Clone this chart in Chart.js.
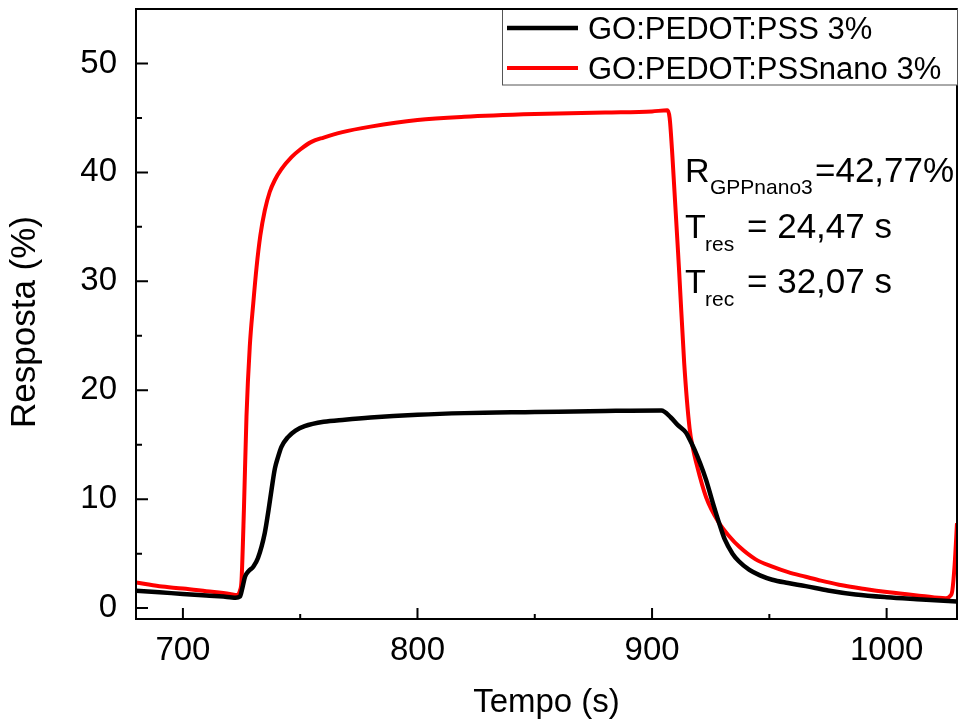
<!DOCTYPE html>
<html><head><meta charset="utf-8">
<script src="https://cdn.jsdelivr.net/npm/chart.js@4.4.1/dist/chart.umd.min.js"></script>
<style>html,body{margin:0;padding:0;background:#fff;}canvas{display:block;}</style>
</head><body><canvas id="c" width="958" height="724"></canvas>
<script>
const seriesNames = ['GO:PEDOT:PSS 3%', 'GO:PEDOT:PSSnano 3%'];
const seriesColors = ['#000000', '#ff0000'];

const pssTime = [680,690,700,710,720,722.5,724.3,725.5,726.5,728,730,732,734.9,736.5,737.8,739.2,740.6,742,744.8,748,751.9,760,769,780,800,820,850,880,904,908,911,914.5,916,918,920.5,923,926,928.6,931,934.3,937,941.5,946,951.2,958,965.5,975,986.8,1000,1015,1030];
const pssValues = [1.6,1.45,1.3,1.15,1.0,0.95,1.06,2.0,2.9,3.4,3.8,4.6,6.9,9.0,10.9,12.8,13.9,14.8,15.7,16.3,16.7,17.1,17.3,17.5,17.75,17.9,18.0,18.1,18.15,17.5,16.8,16.1,15.5,14.6,13.3,11.8,9.6,7.8,6.3,5.0,4.3,3.5,3.0,2.6,2.3,2.02,1.62,1.25,1.0,0.8,0.6];

const nanoTime = [680,690,700,710,720,723,724.3,725,726,727.1,728.5,730,731.4,733,734.9,737,739.2,742,746.3,750,754.8,760,768,780,800,820,850,880,900,906.5,907.5,908.7,911.6,913.7,916,917.3,919,923,928.6,932.9,937.1,944,951.3,958,965.5,972,979.7,990,1001,1015,1025.1,1027,1028,1029,1030];
const nanoValues = [2.35,2.0,1.8,1.55,1.3,1.2,1.6,2.6,9,17.6,24.0,28,31.3,34.2,36.5,38.2,39.3,40.3,41.4,42.1,42.8,43.2,43.7,44.2,44.8,45.1,45.35,45.5,45.6,45.7,45.0,41.4,30.7,22.5,16.5,14.8,13.2,10.2,7.8,6.6,5.65,4.5,3.8,3.3,2.88,2.52,2.15,1.78,1.45,1.12,0.9,1.1,1.6,4,7.8];

const xTicks = [700, 800, 900, 1000];
const xMinorTicks = [750, 850, 950];
const yTicks = [0, 10, 20, 30, 40, 50];
const yMinorTicks = [5, 15, 25, 35, 45];
const xLabel = 'Tempo (s)';
const yLabel = 'Resposta (%)';
const annotationLines = [
  {main: 'R', sub: 'GPPnano3', rest: '=42,77%'},
  {main: 'T', sub: 'res', rest: '= 24,47 s'},
  {main: 'T', sub: 'rec', rest: '= 32,07 s'}
];

const FONT = "'Liberation Sans', Arial, Helvetica, sans-serif";

function toPoints(xs, ys) { return xs.map((x, i) => ({x: x, y: ys[i]})); }

const framePlugin = {
  id: 'frame',
  afterDraw(chart) {
    const {ctx, chartArea: a, scales: {x, y}} = chart;
    ctx.save();
    ctx.strokeStyle = '#000';
    ctx.lineWidth = 2;
    ctx.strokeRect(a.left, a.top, a.right - a.left, a.bottom - a.top);
    ctx.beginPath();
    yTicks.forEach(v => { const p = y.getPixelForValue(v); ctx.moveTo(a.left, p); ctx.lineTo(a.left + 12, p); });
    yMinorTicks.forEach(v => { const p = y.getPixelForValue(v); ctx.moveTo(a.left, p); ctx.lineTo(a.left + 6, p); });
    xTicks.forEach(v => { const p = x.getPixelForValue(v); ctx.moveTo(p, a.bottom); ctx.lineTo(p, a.bottom - 11); });
    xMinorTicks.forEach(v => { const p = x.getPixelForValue(v); ctx.moveTo(p, a.bottom); ctx.lineTo(p, a.bottom - 5); });
    ctx.stroke();

    // y axis title
    ctx.save();
    ctx.translate(25, 322);
    ctx.rotate(-Math.PI / 2);
    ctx.fillStyle = '#000';
    ctx.font = '35px ' + FONT;
    ctx.textAlign = 'center';
    ctx.textBaseline = 'middle';
    ctx.fillText(yLabel, 0, 0);
    ctx.restore();

    // legend
    const lx = 502, ly = a.top, lw = a.right - lx, lh = 85 - a.top;
    ctx.fillStyle = '#fff';
    ctx.fillRect(lx, ly, lw, lh);
    ctx.strokeStyle = '#555';
    ctx.lineWidth = 1;
    ctx.strokeRect(lx + 0.5, ly, lw, lh);
    ctx.strokeStyle = '#000';
    ctx.lineWidth = 2;
    ctx.beginPath(); ctx.moveTo(a.left, a.top); ctx.lineTo(a.right, a.top); ctx.stroke();
    const rows = [28, 68];
    chart.data.datasets.forEach((ds, i) => {
      ctx.strokeStyle = ds.borderColor;
      ctx.lineWidth = i === 0 ? 4.5 : 4;
      ctx.beginPath(); ctx.moveTo(507, rows[i]); ctx.lineTo(578, rows[i]); ctx.stroke();
      ctx.fillStyle = '#000';
      ctx.font = '31px ' + FONT;
      ctx.textBaseline = 'alphabetic';
      ctx.textAlign = 'left';
      ctx.fillText(ds.label, 588, rows[i] + 11);
    });

    // annotation
    const baselines = [181.7, 238, 293.3];
    const subX = [710, 705, 705];
    const restX = [815, 747, 747];
    ctx.fillStyle = '#000';
    annotationLines.forEach((ln, i) => {
      ctx.font = '34px ' + FONT;
      ctx.fillText(ln.main, 685, baselines[i]);
      ctx.font = '35px ' + FONT;
      ctx.fillText(ln.rest, restX[i], baselines[i]);
      ctx.font = '21px ' + FONT;
      ctx.fillText(ln.sub, subX[i], baselines[i] + 12.5);
    });
    ctx.restore();
  }
};

new Chart(document.getElementById('c'), {
  type: 'line',
  data: {
    datasets: [
      {label: seriesNames[0], data: toPoints(pssTime, pssValues), borderColor: seriesColors[0], borderWidth: 4.5, pointRadius: 0, cubicInterpolationMode: 'monotone', fill: false},
      {label: seriesNames[1], data: toPoints(nanoTime, nanoValues), borderColor: seriesColors[1], borderWidth: 4, pointRadius: 0, cubicInterpolationMode: 'monotone', fill: false}
    ]
  },
  options: {
    responsive: false,
    animation: false,
    devicePixelRatio: 1,
    layout: {padding: {top: 9, right: 1, left: 0, bottom: 0}},
    plugins: {legend: {display: false}, tooltip: {enabled: false}},
    scales: {
      x: {
        type: 'linear', min: 680, max: 1030,
        afterBuildTicks(s) { s.ticks = xTicks.map(v => ({value: v})); },
        afterFit(s) { s.height = 105; s.paddingLeft = 0; s.paddingRight = 0; },
        grid: {display: false, drawTicks: false},
        border: {display: false},
        ticks: {color: '#000', font: {size: 33, family: FONT}, padding: 12, maxRotation: 0, autoSkip: false, callback: v => String(v)},
        title: {display: true, text: xLabel, color: '#000', font: {size: 33, family: FONT}, padding: {top: 0, bottom: 1}}
      },
      y: {
        type: 'linear', min: -1, max: 55,
        afterBuildTicks(s) { s.ticks = yTicks.map(v => ({value: v})); },
        afterFit(s) { s.width = 136; s.paddingTop = 0; s.paddingBottom = 0; },
        grid: {display: false, drawTicks: false},
        border: {display: false},
        ticks: {color: '#000', font: {size: 33, family: FONT}, padding: 19, autoSkip: false, callback: v => String(v)},
        title: {display: false, text: yLabel}
      }
    }
  },
  plugins: [framePlugin]
});
</script>
</body></html>
